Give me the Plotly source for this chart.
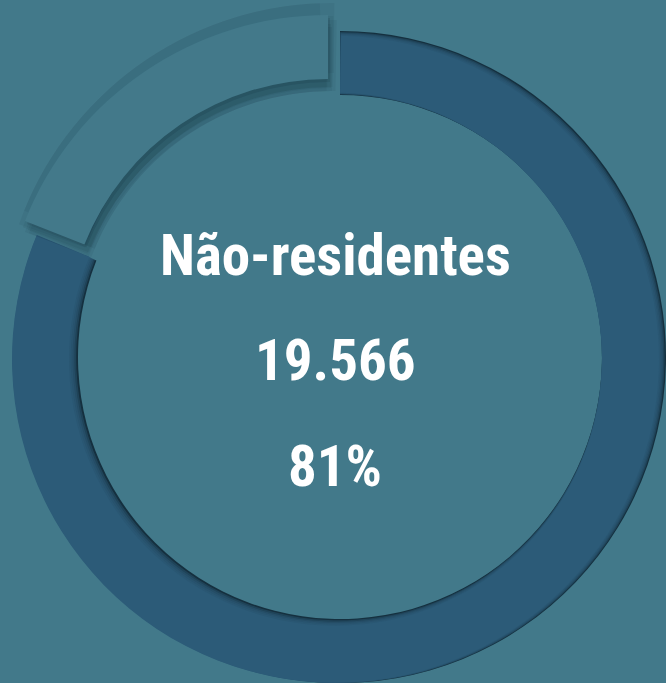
import plotly.graph_objects as go

# Visitor split shown in the ring
labels = ["Não-residentes", "Residentes"]
values = [19566, 4590]
highlight = "Não-residentes"

# Colours
BG = "#42798A"
RING = "#2C5B78"
RING_SHADE = "#15303F"
CUT = "#43798A"

W, H = 666, 683
CX, CY = 340, 357          # ring centre (px from top-left)
R_OUT, R_IN = 326, 262     # ring radii (px)
SLICE_SHIFT = (-12, -16)   # offset of the detached slice (px)


def domain(cx, cy, r):
    return dict(x=[max(0.0, (cx - r) / W), min(1.0, (cx + r) / W)],
                y=[max(0.0, (H - cy - r) / H), min(1.0, (H - cy + r) / H)])


def ring(cx, cy, r_out, r_in, colors, rotation=0):
    return go.Pie(
        labels=labels, values=values, sort=False, direction="clockwise",
        rotation=rotation, hole=r_in / r_out, domain=domain(cx, cy, r_out),
        marker=dict(colors=colors, line=dict(width=0)),
        textinfo="none", hoverinfo="skip", showlegend=False,
    )


clear = "rgba(0,0,0,0)"
fig = go.Figure()

# Main segment: dark base that becomes the inset shadow
fig.add_trace(ring(CX, CY, R_OUT, R_IN, [RING_SHADE, clear]))

# Inset shadow: offset copies of the segment laid over the dark base,
# leaving a soft dark rim along the edges that face up and right
steps = [1, 2, 3, 4, 5]
alphas = [0.45, 0.45, 0.45, 0.5, 1.0]
r, g, b = (int(RING[i:i + 2], 16) for i in (1, 3, 5))
for s, a in zip(steps, alphas):
    ox, oy = -0.9 * s, 0.44 * s
    rot = 0.197 * s
    fig.add_trace(ring(CX + ox, CY + oy, R_OUT - 0.5 * s, R_IN + 0.9 * s,
                       [f"rgba({r},{g},{b},{a})", clear], rotation=rot))

# Soft drop shadow under the detached slice.
# Each entry: centre offset (dx, dy), outer growth, inner growth,
# rotations used (deg) and opacity of each copy.
sx, sy = CX + SLICE_SHIFT[0], CY + SLICE_SHIFT[1]
shadow_layers = [
    (2, 3, 0, 0, [0], 0.10),
    (2, 4, 3, 4, [0.6, -0.6], 0.06),
    (3, 6, 1, 6, [1.0, -1.0], 0.05),
    (4, -6, 6, 0, [0.4, -2.1], 0.05),
    (3, 9, 0, 0, [0], 0.06),
    (4, 12, 0, 0, [0], 0.05),
]
for dx, dy, go_, gi, rots, a in shadow_layers:
    for rot in rots:
        fig.add_trace(ring(sx + dx, sy + dy, R_OUT + go_, R_IN - gi,
                           [clear, f"rgba(8,28,40,{a})"], rotation=rot))

# Detached slice
fig.add_trace(ring(sx, sy, R_OUT, R_IN, [clear, CUT]))

# Centre labels, taken from the highlighted category
idx = labels.index(highlight)
val = values[idx]
pct = round(100 * val / sum(values))
lines = [highlight, f"{val:,}".replace(",", "."), f"{pct}%"]
centres = [255, 360, 466]
for txt, yc in zip(lines, centres):
    fig.add_annotation(
        text=txt, x=335 / W, y=1 - yc / H, xref="paper", yref="paper",
        xanchor="center", yanchor="middle", showarrow=False,
        font=dict(family="Liberation Sans Narrow, Arial Narrow, Roboto Condensed, sans-serif",
                  size=57, color="white", weight="bold"),
    )

fig.update_layout(
    width=W, height=H, margin=dict(l=0, r=0, t=0, b=0),
    paper_bgcolor=BG, plot_bgcolor=BG, showlegend=False,
)

fig.write_html("out.html")
